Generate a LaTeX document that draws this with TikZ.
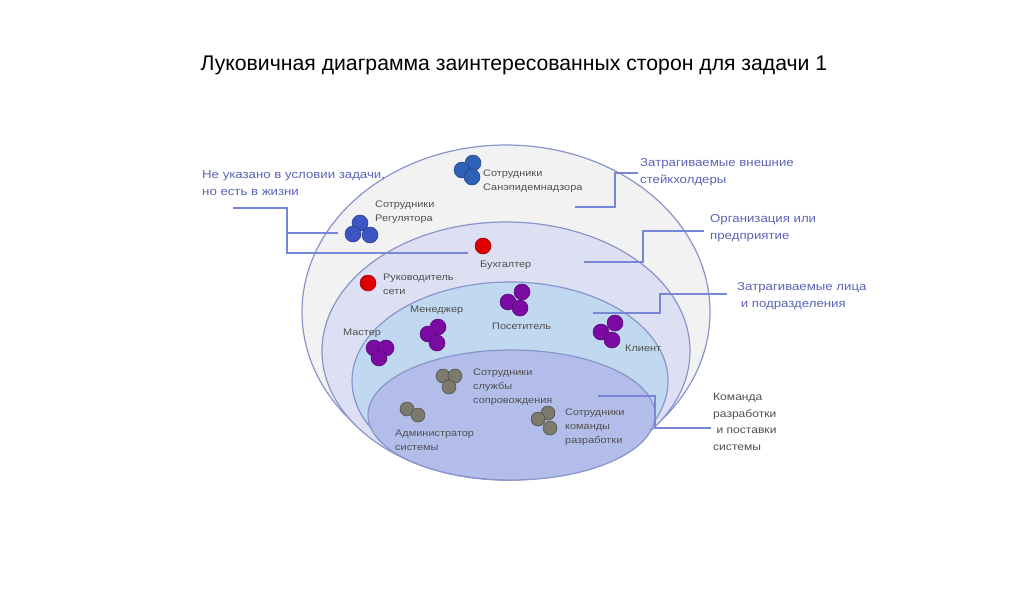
\documentclass[tikz,border=0pt]{standalone}
\usepackage{fontspec}
\setmainfont{Liberation Sans}
\newfontfamily\widefont[FakeStretch=1.15]{Liberation Sans}
\usepackage{xcolor}
\usepackage{tikz}
\usetikzlibrary{shapes.geometric}

\definecolor{outerfill}{HTML}{F2F2F2}
\definecolor{orgfill}{HTML}{DDE0F3}
\definecolor{pplfill}{HTML}{C0D8F0}
\definecolor{corefill}{HTML}{B3BDE9}
\definecolor{rim}{HTML}{8A94CC}
\definecolor{wire}{HTML}{7886D6}
\definecolor{notetext}{HTML}{5C64B4}
\definecolor{tagtext}{HTML}{505050}
\definecolor{sanblue}{HTML}{2F62B6}
\definecolor{regblue}{HTML}{3B55C3}
\definecolor{reddot}{HTML}{E00000}
\definecolor{purpledot}{HTML}{7A0AA2}
\definecolor{greydot}{HTML}{7C796D}

\begin{document}
\begin{tikzpicture}[x=1pt, y=-1pt,
		layer/.style={shape=ellipse, draw=rim, line width=1.2pt, inner sep=0pt, outer sep=0pt},
		callout/.style={draw=wire, line width=1.6pt},
		blob/.style={shape=circle, inner sep=0pt, minimum size=16pt, line width=0.5pt},
		tag/.style={anchor=west, inner sep=0pt, align=left, text=tagtext, font=\widefont\fontsize{9.5}{14}\selectfont},
		note/.style={anchor=west, inner sep=0pt, align=left, text=notetext, font=\widefont\fontsize{11.5}{16.5}\selectfont}]
			% Layers, callouts and stakeholders:
			\fill[white] (0,0) rectangle (1029,603);
			\useasboundingbox (0,0) rectangle (1029,603);
			\node[font=\fontsize{21.2}{24}\selectfont](N0) at (514,65){Луковичная диаграмма заинтересованных сторон для задачи 1};
			\node[layer, fill=outerfill, minimum width=408pt, minimum height=334pt](N1) at (506,312){};
			\node[layer, fill=orgfill, minimum width=368pt, minimum height=258pt](N2) at (506,351){};
			\node[layer, fill=pplfill, minimum width=316pt, minimum height=198pt](N3) at (510,381){};
			\node[layer, fill=corefill, minimum width=287pt, minimum height=130pt](N4) at (511.5,415){};
			\node[note](N5) at (202,183){Не указано в условии задачи,\\но есть в жизни};
			\node[note](N6) at (640,172){Затрагиваемые внешние\\стейкхолдеры};
			\node[note](N7) at (710,228){Организация или\\предприятие};
			\node[note](N8) at (737,296){Затрагиваемые лица\\\ и подразделения};
			\node[note, text=tagtext, font=\widefont\fontsize{10.5}{16.5}\selectfont](N9) at (713,422){Команда\\разработки\\\ и поставки\\системы};
			\coordinate (C1) at (233,208);
			\coordinate (C2) at (287,233);
			\coordinate (C3) at (338,233);
			\coordinate (C4) at (468,253);
			\draw[callout] (C1) -| (C2) |- (C4);
			\draw[callout] (C2) -- (C3);
			\coordinate (C5) at (575,207);
			\coordinate (C6) at (615,173);
			\coordinate (C7) at (638,173);
			\draw[callout] (C5) -| (C6) -- (C7);
			\coordinate (C8) at (584,262);
			\coordinate (C9) at (643,231);
			\coordinate (C10) at (704,231);
			\draw[callout] (C8) -| (C9) -- (C10);
			\coordinate (C11) at (593,313);
			\coordinate (C12) at (660,294);
			\coordinate (C13) at (727,294);
			\draw[callout] (C11) -| (C12) -- (C13);
			\coordinate (C14) at (598,396);
			\coordinate (C15) at (655,428);
			\coordinate (C16) at (711,428);
			\draw[callout] (C14) -| (C15) -- (C16);
			\node[blob, fill=sanblue, draw=sanblue!70!black](N10) at (473,163){};
			\node[blob, fill=sanblue, draw=sanblue!70!black](N11) at (462,170){};
			\node[blob, fill=sanblue, draw=sanblue!70!black](N12) at (472,177){};
			\node[tag](N13) at (483,181){Сотрудники\\Санэпидемнадзора};
			\node[blob, fill=regblue, draw=regblue!70!black](N14) at (360,223){};
			\node[blob, fill=regblue, draw=regblue!70!black](N15) at (353,234){};
			\node[blob, fill=regblue, draw=regblue!70!black](N16) at (370,235){};
			\node[tag](N17) at (375,212){Сотрудники\\Регулятора};
			\node[blob, fill=reddot, draw=reddot!60!black](N18) at (483,246){};
			\node[tag](N19) at (480,265){Бухгалтер};
			\node[blob, fill=reddot, draw=reddot!60!black](N20) at (368,283){};
			\node[tag](N21) at (383,284){Руководитель\\сети};
			\node[blob, fill=purpledot, draw=purpledot!70!black](N22) at (522,292){};
			\node[blob, fill=purpledot, draw=purpledot!70!black](N23) at (508,302){};
			\node[blob, fill=purpledot, draw=purpledot!70!black](N24) at (520,308){};
			\node[tag](N25) at (492,326){Посетитель};
			\node[blob, fill=purpledot, draw=purpledot!70!black](N26) at (438,327){};
			\node[blob, fill=purpledot, draw=purpledot!70!black](N27) at (428,334){};
			\node[blob, fill=purpledot, draw=purpledot!70!black](N28) at (437,343){};
			\node[tag](N29) at (410,310){Менеджер};
			\node[blob, fill=purpledot, draw=purpledot!70!black](N30) at (374,348){};
			\node[blob, fill=purpledot, draw=purpledot!70!black](N31) at (386,348){};
			\node[blob, fill=purpledot, draw=purpledot!70!black](N32) at (379,358){};
			\node[tag](N33) at (343,333){Мастер};
			\node[blob, fill=purpledot, draw=purpledot!70!black](N34) at (615,323){};
			\node[blob, fill=purpledot, draw=purpledot!70!black](N35) at (601,332){};
			\node[blob, fill=purpledot, draw=purpledot!70!black](N36) at (612,340){};
			\node[tag](N37) at (625,348){Клиент};
			\node[blob, fill=greydot, draw=greydot!60!black, minimum size=14pt](N38) at (443,376){};
			\node[blob, fill=greydot, draw=greydot!60!black, minimum size=14pt](N39) at (455,376){};
			\node[blob, fill=greydot, draw=greydot!60!black, minimum size=14pt](N40) at (449,387){};
			\node[tag](N41) at (473,387){Сотрудники\\службы\\сопровождения};
			\node[blob, fill=greydot, draw=greydot!60!black, minimum size=14pt](N42) at (407,409){};
			\node[blob, fill=greydot, draw=greydot!60!black, minimum size=14pt](N43) at (418,415){};
			\node[tag](N44) at (395,440){Администратор\\системы};
			\node[blob, fill=greydot, draw=greydot!60!black, minimum size=14pt](N45) at (548,413){};
			\node[blob, fill=greydot, draw=greydot!60!black, minimum size=14pt](N46) at (538,419){};
			\node[blob, fill=greydot, draw=greydot!60!black, minimum size=14pt](N47) at (550,428){};
			\node[tag](N48) at (565,427){Сотрудники\\команды\\разработки};
		\end{tikzpicture}
\end{document}
